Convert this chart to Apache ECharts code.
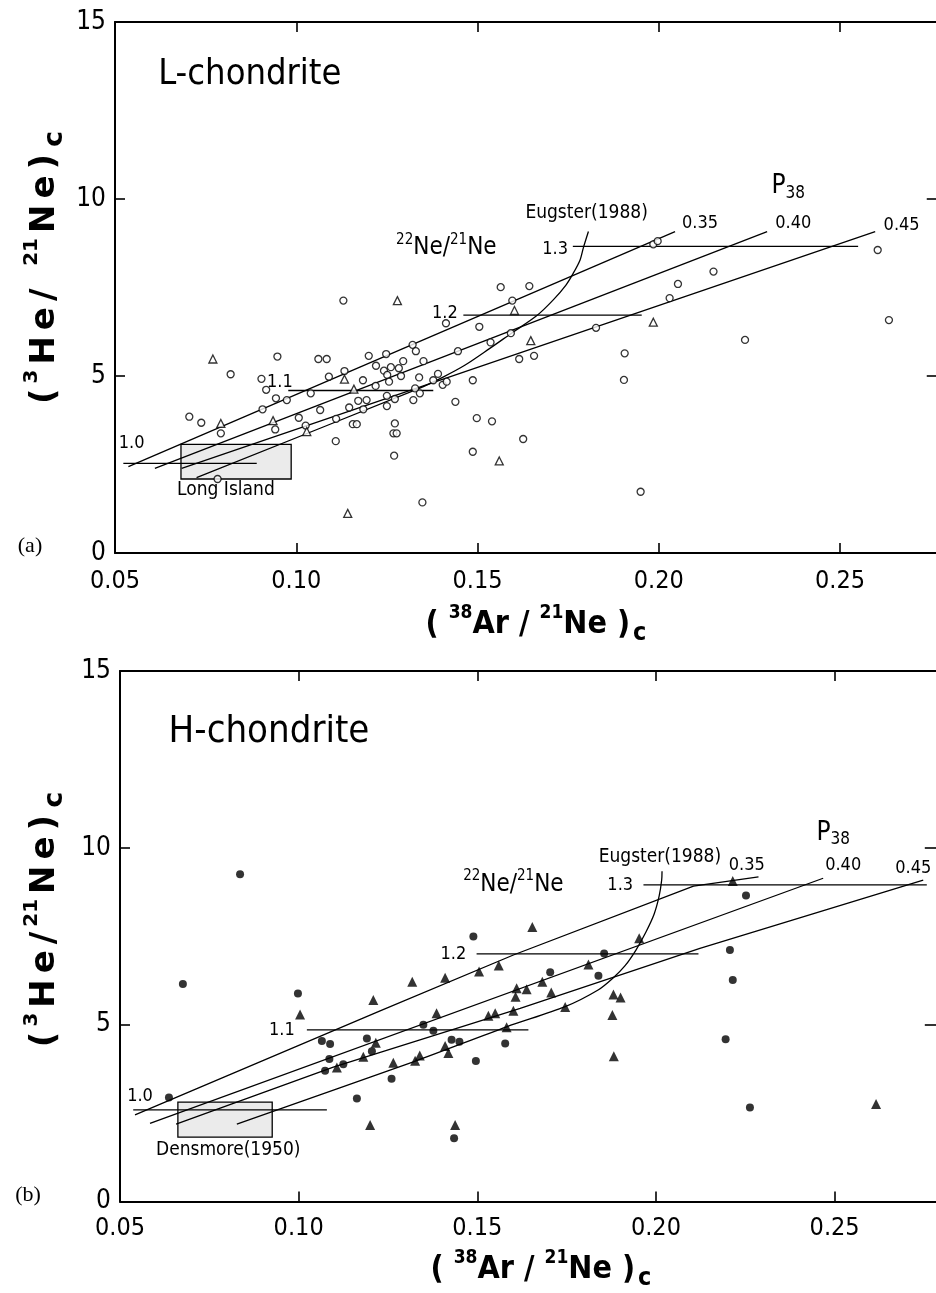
<!DOCTYPE html>
<html><head><meta charset="utf-8">
<script src="https://cdn.jsdelivr.net/npm/echarts@6/dist/echarts.min.js"></script>
<style>html,body{margin:0;padding:0;background:#fff}#c{width:936px;height:1293px}</style>
</head><body><div id="c"></div>
<script>
// ---------- tick labels ----------
const xTickValues = [0.05, 0.10, 0.15, 0.20, 0.25];
const xTickLabels = ['0.05', '0.10', '0.15', '0.20', '0.25'];
const yTickValues = [0, 5, 10, 15];
const yTickLabels = ['0', '5', '10', '15'];

// ---------- (a) L-chondrite : [38Ar/21Ne, 3He/21Ne] ----------
const L_circles = [[0.1564,7.51],[0.1130,7.13],[0.1596,7.13],[0.1413,6.49],[0.1505,6.39],[0.1321,5.88],[0.1330,5.70],[0.1536,5.95],[0.1592,6.21],[0.1446,5.70],[0.0948,5.55],[0.1061,5.48],[0.1084,5.48],[0.1200,5.57],[0.1248,5.62],[0.1351,5.42],[0.1220,5.29],[0.1295,5.42],[0.1242,5.15],[0.1261,5.25],[0.1283,5.22],[0.1251,5.03],[0.0819,5.05],[0.0904,4.92],[0.0917,4.61],[0.1090,4.98],[0.1133,5.14],[0.1184,4.88],[0.1219,4.72],[0.1256,4.84],[0.1289,5.00],[0.1339,4.96],[0.1391,5.06],[0.1378,4.88],[0.1404,4.75],[0.1415,4.84],[0.1487,4.88],[0.1040,4.51],[0.0944,4.37],[0.0974,4.32],[0.0907,4.06],[0.1066,4.04],[0.1171,4.30],[0.1194,4.32],[0.1250,4.44],[0.1272,4.35],[0.1323,4.32],[0.1328,4.65],[0.1341,4.51],[0.1146,4.11],[0.1185,4.06],[0.1250,4.15],[0.1439,4.27],[0.0705,3.85],[0.0738,3.68],[0.0792,3.38],[0.0942,3.49],[0.1007,3.82],[0.1026,3.60],[0.1110,3.79],[0.1156,3.64],[0.1167,3.64],[0.1272,3.66],[0.1268,3.38],[0.1277,3.38],[0.1109,3.16],[0.1270,2.75],[0.1498,3.81],[0.1540,3.72],[0.1487,2.86],[0.0783,2.09],[0.1348,1.43],[0.1985,8.72],[0.1997,8.81],[0.2604,8.56],[0.1643,7.54],[0.1615,5.48],[0.1656,5.57],[0.2151,7.95],[0.2053,7.60],[0.2030,7.20],[0.1827,6.36],[0.2635,6.58],[0.2238,6.02],[0.1906,5.64],[0.1904,4.89],[0.1626,3.22],[0.1950,1.73]];
const L_triangles = [[0.1279,7.13],[0.1602,6.85],[0.0770,5.48],[0.1133,4.91],[0.1159,4.63],[0.0792,3.66],[0.0936,3.74],[0.1029,3.43],[0.1560,2.60],[0.1142,1.12],[0.1647,6.00],[0.1985,6.52]];
const L_p035 = [[0.0537,2.44],[0.2045,9.08]];
const L_p040 = [[0.0610,2.39],[0.2299,9.08]];
const L_p045 = [[0.0684,2.39],[0.2597,9.08]];
const L_eugster = [[0.0725,2.13],[0.1341,4.66],[0.1405,4.97],[0.1466,5.31],[0.1534,5.78],[0.1594,6.21],[0.1663,6.70],[0.1709,7.15],[0.1744,7.57],[0.1764,7.90],[0.1783,8.28],[0.1792,8.62],[0.1806,9.08]];
const L_ne10 = [[0.0523,2.53],[0.0891,2.53]];
const L_ne11 = [[0.0978,4.59],[0.1378,4.59]];
const L_ne12 = [[0.1461,6.72],[0.1953,6.72]];
const L_ne13 = [[0.1763,8.66],[0.2550,8.66]];
const L_box = [[0.0682,2.09],[0.0986,3.07]];

// ---------- (b) H-chondrite ----------
const H_circles = [[0.0637,2.94],[0.0676,6.15],[0.0836,9.25],[0.0998,5.88],[0.1065,4.54],[0.1088,4.45],[0.1191,4.61],[0.1086,4.03],[0.1074,3.70],[0.1125,3.88],[0.1205,4.25],[0.1260,3.47],[0.1163,2.91],[0.1349,5.00],[0.1377,4.83],[0.1428,4.57],[0.1450,4.52],[0.1496,3.97],[0.1578,4.47],[0.1489,7.49],[0.1704,6.48],[0.1855,7.01],[0.1839,6.38],[0.1435,1.79],[0.2195,4.59],[0.2215,6.26],[0.2207,7.11],[0.2252,8.65],[0.2263,2.66]];
const H_triangles = [[0.1004,5.29],[0.1209,5.70],[0.1318,6.21],[0.1410,6.33],[0.1505,6.50],[0.1560,6.67],[0.1654,7.76],[0.1386,5.32],[0.1216,4.49],[0.1107,3.79],[0.1181,4.09],[0.1265,3.92],[0.1326,3.98],[0.1339,4.13],[0.1410,4.40],[0.1419,4.20],[0.1531,5.25],[0.1550,5.32],[0.1601,5.39],[0.1582,4.93],[0.1610,6.03],[0.1638,6.00],[0.1607,5.79],[0.1682,6.21],[0.1707,5.91],[0.1746,5.50],[0.1811,6.70],[0.1953,7.44],[0.1881,5.85],[0.1901,5.77],[0.1878,5.27],[0.1882,4.11],[0.2215,9.06],[0.2616,2.76],[0.1200,2.16],[0.1438,2.16]];
const H_p035 = [[0.0542,2.45],[0.1228,5.39],[0.1601,6.97],[0.2105,8.92],[0.2287,9.18]];
const H_p040 = [[0.0584,2.21],[0.2468,9.14]];
const H_p045 = [[0.0657,2.19],[0.1097,3.80],[0.1620,5.46],[0.2123,7.16],[0.2748,9.09]];
const H_eugster = [[0.0827,2.19],[0.1321,3.95],[0.1582,4.94],[0.1746,5.51],[0.1838,5.98],[0.1880,6.32],[0.1913,6.66],[0.1944,7.11],[0.1972,7.62],[0.1995,8.13],[0.2009,8.64],[0.2016,9.09],[0.2017,9.34]];
const H_ne10 = [[0.0537,2.59],[0.1079,2.59]];
const H_ne11 = [[0.1023,4.85],[0.1643,4.85]];
const H_ne12 = [[0.1498,7.00],[0.2119,7.00]];
const H_ne13 = [[0.1965,8.95],[0.2758,8.95]];
const H_box = [[0.0662,1.82],[0.0926,2.81]];

// ---------- annotations (text, anchor in data coordinates, kind) ----------
const L_notes = [
  ['L-chondrite', 0.0872, 13.5, 'titleL'],
  ['{s|22}{n|Ne/}{s|21}{n|Ne}', 0.1414, 8.61, 'ne'],
  ['Eugster(1988)', 0.1801, 9.60, 'eug'],
  ['{P|P}{q|38}', 0.2357, 10.35, 'p'],
  ['0.35', 0.2114, 9.31, 'num'],
  ['0.40', 0.2371, 9.31, 'num'],
  ['0.45', 0.2670, 9.27, 'num'],
  ['1.3', 0.1714, 8.59, 'num'],
  ['1.2', 0.1410, 6.77, 'num'],
  ['1.1', 0.0955, 4.83, 'num'],
  ['1.0', 0.0546, 3.10, 'num'],
  ['Long Island', 0.0806, 1.78, 'box']
];
const H_notes = [
  ['H-chondrite', 0.0917, 13.27, 'titleH'],
  ['{s|22}{n|Ne/}{s|21}{n|Ne}', 0.1601, 8.95, 'ne'],
  ['Eugster(1988)', 0.2011, 9.75, 'eug'],
  ['{P|P}{q|38}', 0.2496, 10.41, 'p'],
  ['0.35', 0.2254, 9.51, 'num'],
  ['0.40', 0.2524, 9.51, 'num'],
  ['0.45', 0.2720, 9.42, 'num'],
  ['1.3', 0.1900, 8.95, 'num'],
  ['1.2', 0.1433, 7.00, 'num'],
  ['1.1', 0.0953, 4.83, 'num'],
  ['1.0', 0.0556, 2.96, 'num'],
  ['Densmore(1950)', 0.0803, 1.46, 'box']
];

// ---------- rendering ----------
const INK = '#000';
const FC = "'DejaVu Sans Condensed', 'Liberation Sans Narrow', 'DejaVu Sans', sans-serif";
const FS = "'DejaVu Sans', 'Liberation Sans', sans-serif";
const noteSize = {titleL: 36, titleH: 38, eug: 19, num: 18, box: 19, ne: 24, p: 26};

function xLabel(v) {
  for (let i = 0; i < xTickValues.length; i++) if (Math.abs(v - xTickValues[i]) < 1e-6) return xTickLabels[i];
  return '';
}
function yLabel(v) {
  for (let i = 0; i < yTickValues.length; i++) if (Math.abs(v - yTickValues[i]) < 1e-6) return yTickLabels[i];
  return '';
}

function makeXAxes(gi, margin) {
  const common = {
    gridIndex: gi, type: 'value', min: 0.05, max: 0.28, interval: 0.05,
    axisLine: {show: true, onZero: false, lineStyle: {color: INK, width: 2}},
    axisTick: {show: true, inside: true, length: 10, lineStyle: {color: INK, width: 1.6}},
    splitLine: {show: false}
  };
  return [
    Object.assign({}, common, {position: 'bottom',
      axisLabel: {show: true, formatter: xLabel, fontSize: 25, color: INK, margin: margin, fontFamily: FC,
        showMinLabel: true, showMaxLabel: true}}),
    Object.assign({}, common, {position: 'top', axisLabel: {show: false}})
  ];
}
function makeYAxes(gi, rightTick) {
  const common = {
    gridIndex: gi, type: 'value', min: 0, max: 15, interval: 5,
    axisLine: {show: true, onZero: false, lineStyle: {color: INK, width: 2}},
    splitLine: {show: false}
  };
  return [
    Object.assign({}, common, {position: 'left',
      axisTick: {show: true, inside: true, length: 10, lineStyle: {color: INK, width: 1.6}},
      axisLabel: {show: true, formatter: yLabel, fontSize: 26, color: INK, margin: 9, fontFamily: FC}}),
    Object.assign({}, common, {position: 'right',
      axisTick: {show: true, inside: true, length: rightTick, lineStyle: {color: INK, width: 1.6}},
      axisLabel: {show: false}})
  ];
}

function lineSeries(xi, yi, data, smooth) {
  return {type: 'line', xAxisIndex: xi, yAxisIndex: yi, data: data, symbol: 'none', showSymbol: false,
    smooth: smooth || false, silent: true, z: 3,
    lineStyle: {color: INK, width: 1.3}};
}
function boxSeries(xi, yi, box) {
  return {type: 'line', xAxisIndex: xi, yAxisIndex: yi, data: [], silent: true, z: 1,
    markArea: {silent: true,
      itemStyle: {color: '#ebebeb', borderColor: INK, borderWidth: 1.3},
      data: [[{coord: [box[0][0], box[1][1]]}, {coord: [box[1][0], box[0][1]]}]]}};
}
function pointSeries(xi, yi, data, symbol, size, filled) {
  return {type: 'scatter', xAxisIndex: xi, yAxisIndex: yi, data: data, symbol: symbol, symbolSize: size,
    silent: true, z: 5,
    itemStyle: filled ? {color: INK, borderWidth: 0} : {color: '#fff', borderColor: INK, borderWidth: 1.3}};
}

const noteRich = {
  n: {fontSize: 24, lineHeight: 32, verticalAlign: 'middle', fill: INK, fontFamily: FC},
  s: {fontSize: 15, lineHeight: 15, verticalAlign: 'top', fill: INK, fontFamily: FC},
  P: {fontSize: 26, lineHeight: 30, verticalAlign: 'middle', fill: INK, fontFamily: FC},
  q: {fontSize: 17, lineHeight: 19, verticalAlign: 'bottom', fill: INK, fontFamily: FC}
};
// spread-out tokens for the axis titles (one token per glyph with padding)
const titleRich = {
  m: {fontSize: 34, fontWeight: 'bold', lineHeight: 46, verticalAlign: 'middle', fill: INK, fontFamily: FS, padding: [0, 3, 0, 3]},
  s: {fontSize: 20, fontWeight: 'bold', lineHeight: 22, verticalAlign: 'top', fill: INK, fontFamily: FS, padding: [0, 2, 0, 2]},
  c: {fontSize: 27, fontWeight: 'bold', lineHeight: 30, verticalAlign: 'bottom', fill: INK, fontFamily: FS, padding: [0, 2, 0, 4]}
};
const xTitleRich = {
  m: {fontSize: 32, fontWeight: 'bold', lineHeight: 42, verticalAlign: 'middle', fill: INK, fontFamily: FC},
  s: {fontSize: 19, fontWeight: 'bold', lineHeight: 21, verticalAlign: 'top', fill: INK, fontFamily: FC},
  c: {fontSize: 25, fontWeight: 'bold', lineHeight: 28, verticalAlign: 'bottom', fill: INK, fontFamily: FC, padding: [0, 0, 0, 3]}
};
function gText(x, y, text, rich, rot) {
  return {type: 'text', x: x, y: y, rotation: rot || 0, silent: true, z: 10,
    style: {text: text, rich: rich, align: 'center', verticalAlign: 'middle', fill: INK}};
}
function glyphTokens(str, cls) {
  return str.split('').map(ch => '{' + cls + '|' + ch + '}').join('');
}
const yTitleA = glyphTokens('(', 'm') + '{s|3}' + glyphTokens('He/ ', 'm') + '{s|21}' + glyphTokens('Ne)', 'm') + '{c|c}';
const yTitleB = glyphTokens('(', 'm') + '{s|3}' + glyphTokens('He/', 'm') + '{s|21}' + glyphTokens('Ne)', 'm') + '{c|c}';
const xTitle = '{m|( }{s|38}{m|Ar / }{s|21}{m|Ne )}{c|c}';

const option = {
  animation: false,
  backgroundColor: '#fff',
  grid: [
    {left: 115, top: 22, width: 833.75, height: 531, containLabel: false, outerBoundsMode: 'none'},
    {left: 120, top: 671, width: 821.8, height: 530.5, containLabel: false, outerBoundsMode: 'none'}
  ],
  xAxis: [].concat(makeXAxes(0, 16), makeXAxes(1, 14)),
  yAxis: [].concat(makeYAxes(0, 22), makeYAxes(1, 17)),
  series: [
    boxSeries(0, 0, L_box),
    lineSeries(0, 0, L_p035), lineSeries(0, 0, L_p040), lineSeries(0, 0, L_p045),
    lineSeries(0, 0, L_eugster, 0.3),
    lineSeries(0, 0, L_ne10), lineSeries(0, 0, L_ne11), lineSeries(0, 0, L_ne12), lineSeries(0, 0, L_ne13),
    pointSeries(0, 0, L_circles, 'circle', 7, false),
    pointSeries(0, 0, L_triangles, 'triangle', 8, false),

    boxSeries(2, 2, H_box),
    lineSeries(2, 2, H_p035), lineSeries(2, 2, H_p040), lineSeries(2, 2, H_p045),
    lineSeries(2, 2, H_eugster, 0.3),
    lineSeries(2, 2, H_ne10), lineSeries(2, 2, H_ne11), lineSeries(2, 2, H_ne12), lineSeries(2, 2, H_ne13),
    pointSeries(2, 2, H_circles, 'circle', 8, true),
    pointSeries(2, 2, H_triangles, 'triangle', 10, true)
  ]
};

const chart = echarts.init(document.getElementById('c'), null, {renderer: 'canvas'});
chart.setOption(option);

// annotation texts, anchored through the axes' own scales
const graphics = [
  gText(45, 268, yTitleA, titleRich, Math.PI / 2),
  gText(45, 920, yTitleB, titleRich, Math.PI / 2),
  gText(536, 625, xTitle, xTitleRich),
  gText(541, 1270, xTitle, xTitleRich),
  {type: 'text', x: 30, y: 546, silent: true,
    style: {text: '(a)', fontSize: 22, fontFamily: "'Liberation Serif', serif", fill: INK, align: 'center', verticalAlign: 'middle'}},
  {type: 'text', x: 28, y: 1195, silent: true,
    style: {text: '(b)', fontSize: 22, fontFamily: "'Liberation Serif', serif", fill: INK, align: 'center', verticalAlign: 'middle'}}
];
function addNotes(notes, xi, yi) {
  notes.forEach(n => {
    const p = chart.convertToPixel({xAxisIndex: xi, yAxisIndex: yi}, [n[1], n[2]]);
    graphics.push({type: 'text', x: p[0], y: p[1], silent: true, z: 9,
      style: {text: n[0], rich: noteRich, fontSize: noteSize[n[3]], fontFamily: FC, fill: INK,
        align: 'center', verticalAlign: 'middle'}});
  });
}
addNotes(L_notes, 0, 0);
addNotes(H_notes, 2, 2);
chart.setOption({graphic: graphics});
</script>
</body></html>
